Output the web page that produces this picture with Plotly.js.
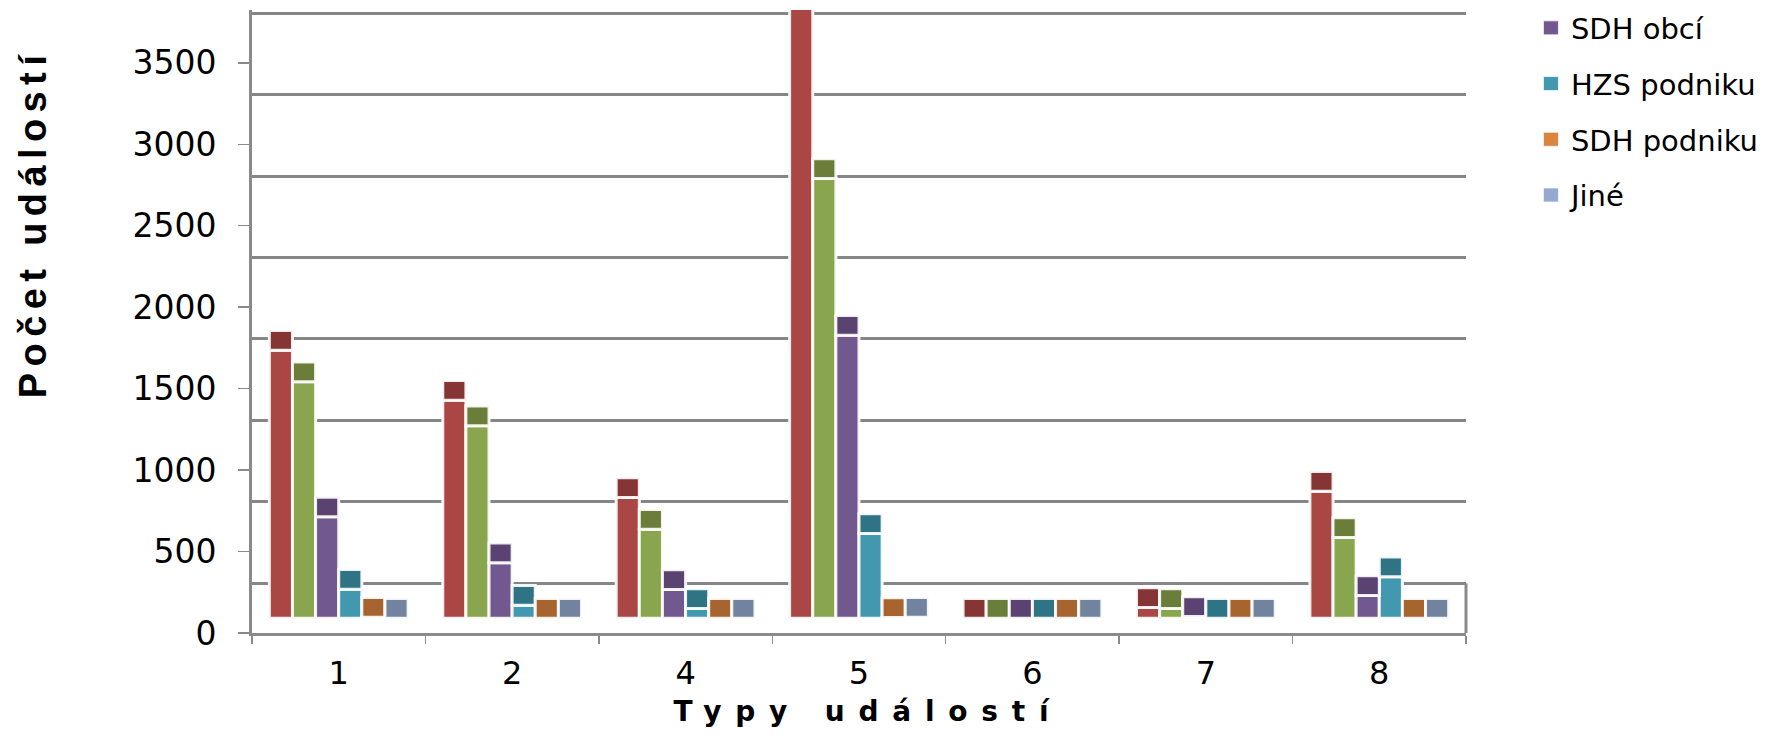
<!DOCTYPE html>
<html>
<head>
<meta charset="utf-8">
<script src="https://cdn.plot.ly/plotly-3.0.1.min.js"></script>
<style>
  html, body { margin: 0; padding: 0; background: #ffffff; }
  #chart { width: 1772px; height: 736px; }
</style>
</head>
<body>
<div id="chart"></div>
<script>
// ---- data ----
const categories = ['1', '2', '4', '5', '6', '7', '8'];
const seriesNames = ['Řada 1', 'Řada 2', 'SDH obcí', 'HZS podniku', 'SDH podniku', 'Jiné'];
const series1 = [1645, 1338, 741, 3900, 0, 66, 780];
const series2 = [1451, 1181, 546, 2699, 0, 60, 495];
const sdhObci = [622, 340, 176, 1737, 0, 10, 139];
const hzsPodniku = [178, 80, 60, 520, 0, 0, 254];
const sdhPodniku = [6, 0, 0, 4, 0, 0, 0];
const jine = [0, 0, 0, 6, 0, 0, 0];
const yTickValues = [0, 500, 1000, 1500, 2000, 2500, 3000, 3500];

// ---- styling ----
const frontColors = ['#AA4643', '#89A54E', '#71588F', '#4198AF', '#DB843D', '#93A9CF'];
const capColors   = ['#843534', '#6A7E3A', '#5A4370', '#2F7485', '#A8642E', '#7283A0'];
const inLegend    = [false, false, true, true, true, true];
const allSeries = [series1, series2, sdhObci, hzsPodniku, sdhPodniku, jine];

// pseudo-3D geometry (pixels of the reference projection)
const PX_PER_UNIT = 0.16291;
const PLOT_TOP = 10, PLOT_BOTTOM = 633;
const Y_MAX = (PLOT_BOTTOM - PLOT_TOP) / PX_PER_UNIT;   // front-plane units
const BACK_OFFSET = 49.7 / PX_PER_UNIT;   // back wall lies higher than the front axis
const BAR_OFFSET = 14.8 / PX_PER_UNIT;    // bars stand in the middle of the depth
const CAP_DEPTH = 19.7 / PX_PER_UNIT;     // visible top face of each column

const traces = [];
allSeries.forEach((vals, i) => {
  traces.push({
    type: 'bar', name: seriesNames[i], x: categories, y: vals,
    offsetgroup: 'g' + i, legendgroup: 'lg' + i, showlegend: inLegend[i],
    marker: { color: frontColors[i], line: { color: 'rgba(255,255,255,0.9)', width: 3 } },
    hoverinfo: 'skip'
  });
});
allSeries.forEach((vals, i) => {
  traces.push({
    type: 'bar', name: seriesNames[i] + ' top', x: categories,
    y: categories.map(() => CAP_DEPTH), base: vals,
    offsetgroup: 'g' + i, legendgroup: 'lg' + i, showlegend: false,
    marker: { color: capColors[i], line: { color: 'rgba(255,255,255,0.9)', width: 3 } },
    hoverinfo: 'skip'
  });
});

const gray = '#8a8a8a';

const layout = {
  width: 1772, height: 736,
  paper_bgcolor: '#ffffff', plot_bgcolor: '#ffffff',
  margin: { l: 252, r: 306, t: PLOT_TOP, b: 736 - PLOT_BOTTOM, pad: 0, autoexpand: false },
  barmode: 'group', bargap: 0.2, bargroupgap: 0,
  showlegend: true,
  legend: {
    x: 1.0535, xanchor: 'left', y: 1.012, yanchor: 'top',
    font: { family: 'DejaVu Sans, Arial, sans-serif', size: 29, color: '#000000' },
    tracegroupgap: 15, traceorder: 'grouped', bgcolor: 'rgba(0,0,0,0)'
  },
  xaxis: {
    type: 'category', categoryorder: 'array', categoryarray: categories,
    range: [-0.5, categories.length - 0.5], fixedrange: true,
    showline: true, linecolor: gray, linewidth: 3,
    ticks: 'outside', tickson: 'boundaries', ticklen: 8, tickwidth: 1.5, tickcolor: gray,
    showgrid: false, zeroline: false, automargin: false,
    tickfont: { family: 'DejaVu Sans, Arial, sans-serif', size: 32, color: '#000000' },
    ticklabelstandoff: 10,
    title: {
      text: 'Typy událostí', standoff: 0,
      font: { family: 'DejaVu Sans, Arial, sans-serif', size: 28, weight: 'bold', color: '#000000' }
    }
  },
  // one value axis: bars use it directly; the front-plane labels and the
  // back-wall grid are placed on it through the projection offsets
  yaxis: {
    range: [-BAR_OFFSET, Y_MAX - BAR_OFFSET], fixedrange: true,
    tickvals: yTickValues.map(v => v - BAR_OFFSET), ticktext: yTickValues.map(String),
    showline: true, linecolor: gray, linewidth: 3,
    ticks: 'outside', ticklen: 11, tickwidth: 1.5, tickcolor: gray,
    showgrid: false, zeroline: false, automargin: false,
    tickfont: { family: 'DejaVu Sans, Arial, sans-serif', size: 33, color: '#000000' },
    ticklabelstandoff: 15,
    minor: {
      tickvals: yTickValues.map(v => v + BACK_OFFSET - BAR_OFFSET),
      ticks: '', showgrid: true, gridcolor: '#858585', gridwidth: 3
    }
  },
  shapes: [{
    type: 'line', xref: 'paper', yref: 'paper',
    x0: 1, x1: 1, y0: 0, y1: BACK_OFFSET / Y_MAX,
    line: { color: gray, width: 3 }
  }],
  annotations: [{
    text: 'Počet událostí', textangle: -90,
    xref: 'paper', yref: 'paper', x: -0.1801, y: 0.658,
    xanchor: 'center', yanchor: 'middle', showarrow: false,
    font: { family: 'Liberation Sans, Arial, sans-serif', size: 38, weight: 'bold', color: '#000000' }
  }]
};

function finishStyling(gd) {
  gd.querySelectorAll('.g-xtitle text').forEach(t => {
    t.style.letterSpacing = '13.8px';
    t.setAttribute('dx', '9');
    t.setAttribute('dy', '3');
  });
  gd.querySelectorAll('.annotation-text').forEach(t => { t.style.letterSpacing = '6.4px'; });
  gd.querySelectorAll('g.legendpoints path').forEach(p => {
    p.setAttribute('d', 'M7.5,7H-7.5V-7H7.5Z');
    p.style.strokeWidth = '0.8px';
  });
}

Plotly.newPlot('chart', traces, layout, { staticPlot: true, displayModeBar: false }).then(gd => {
  finishStyling(gd);
  gd.on('plotly_afterplot', () => finishStyling(gd));
});
</script>
</body>
</html>
